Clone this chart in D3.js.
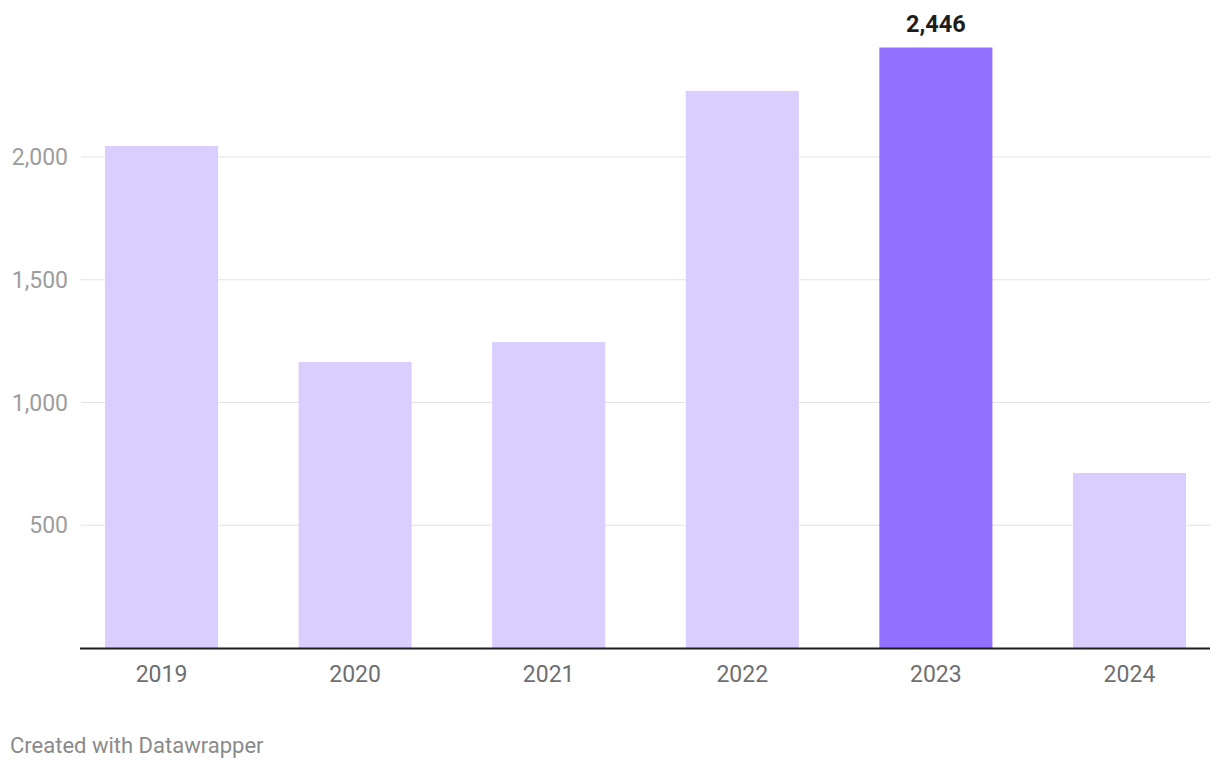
<!DOCTYPE html>
<html>
<head>
<meta charset="utf-8">
<script src="https://cdn.jsdelivr.net/npm/d3@7"></script>
<style>
  body { margin: 0; background: #fff; font-family: Roboto, "Noto Sans", sans-serif; }
</style>
</head>
<body>
<svg id="chart"></svg>
<script>
const width = 1220;
const height = 770;
const sid = "#chart";

// data
const years = ["2019", "2020", "2021", "2022", "2023", "2024"];
const values = [2045, 1165, 1246, 2269, 2446, 713];
const highlightYear = "2023";
const yTicks = [500, 1000, 1500, 2000];

const svg = d3.select(sid)
    .attr("width", width)
    .attr("height", height);

const xScale = d3.scaleBand()
    .domain(years)
    .range([105, 1186])
    .paddingInner(0.416)
    .paddingOuter(0);

const yScale = d3.scaleLinear()
    .domain([0, 2000])
    .range([648, 157]);

// gridlines
svg.append("g")
    .selectAll("line")
    .data(yTicks)
    .enter()
    .append("line")
        .attr("x1", 81)
        .attr("x2", 1210)
        .attr("y1", d => yScale(d))
        .attr("y2", d => yScale(d))
        .attr("stroke", "#e3e3e3")
        .attr("stroke-width", 1);

// y labels
svg.append("g")
    .selectAll("text")
    .data(yTicks)
    .enter()
    .append("text")
        .attr("x", 68)
        .attr("y", d => yScale(d))
        .attr("dy", "0.35em")
        .attr("text-anchor", "end")
        .style("font-size", "23px")
        .style("fill", "#9d9d9d")
        .text(d => d3.format(",")(d));

// bars
const data = years.map((y, i) => ({ year: y, value: values[i] }));
svg.append("g")
    .selectAll("rect")
    .data(data)
    .enter()
    .append("rect")
        .attr("x", d => xScale(d.year))
        .attr("width", xScale.bandwidth())
        .attr("y", d => yScale(d.value))
        .attr("height", d => yScale(0) - yScale(d.value))
        .attr("fill", d => d.year === highlightYear ? "#9370ff" : "#d9ceff");

// value label for highlighted bar
const hl = data.find(d => d.year === highlightYear);
svg.append("text")
    .attr("x", xScale(hl.year) + xScale.bandwidth() / 2)
    .attr("y", yScale(hl.value) - 16)
    .attr("text-anchor", "middle")
    .style("font-size", "23.5px")
    .style("font-weight", "bold")
    .style("fill", "#1d1d1d")
    .text(d3.format(",")(hl.value));

// baseline
svg.append("line")
    .attr("x1", 80)
    .attr("x2", 1210)
    .attr("y1", yScale(0) + 0.5)
    .attr("y2", yScale(0) + 0.5)
    .attr("stroke", "#1d1d1d")
    .attr("stroke-width", 2);

// x labels
svg.append("g")
    .selectAll("text")
    .data(years)
    .enter()
    .append("text")
        .attr("x", d => xScale(d) + xScale.bandwidth() / 2)
        .attr("y", 682)
        .attr("text-anchor", "middle")
        .style("font-size", "23px")
        .style("fill", "#6f6f6f")
        .text(d => d);

// footer
svg.append("text")
    .attr("x", 10)
    .attr("y", 753)
    .style("font-size", "22px")
    .style("fill", "#8a8a8a")
    .text("Created with Datawrapper");
</script>
</body>
</html>
